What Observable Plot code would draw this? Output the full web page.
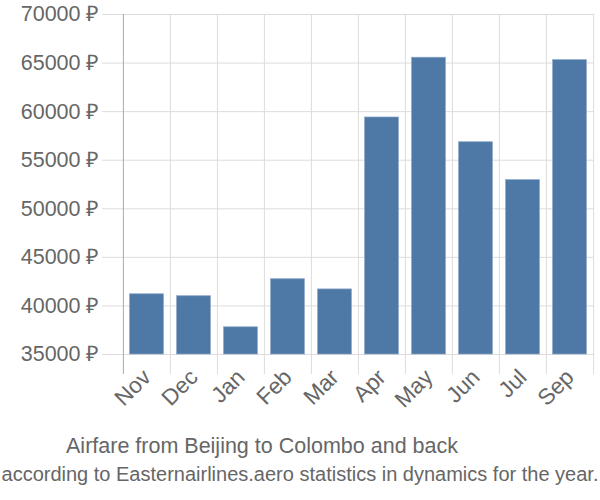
<!DOCTYPE html>
<html>
<head>
<meta charset="utf-8">
<script src="https://cdn.jsdelivr.net/npm/d3@7"></script>
<script src="https://cdn.jsdelivr.net/npm/@observablehq/plot@0.6"></script>
<style>
  html, body { margin: 0; padding: 0; background: #fff; }
  body { width: 600px; height: 500px; overflow: hidden; font-family: "Liberation Sans", Arial, sans-serif; color: #666; }
  #title { width: 524px; text-align: center; font-size: 21.5px; line-height: 24px; margin-top: 4px; white-space: nowrap; }
  #subtitle { width: 600px; text-align: center; font-size: 20px; line-height: 24px; margin-top: 4px; white-space: nowrap; }
</style>
</head>
<body>
<div id="chart"></div>
<div id="title">Airfare from Beijing to Colombo and back</div>
<div id="subtitle">according to Easternairlines.aero statistics in dynamics for the year.</div>
<script>
const months = ["Nov", "Dec", "Jan", "Feb", "Mar", "Apr", "May", "Jun", "Jul", "Sep"];
const prices = [41200, 41000, 37800, 42750, 41700, 59400, 65550, 56850, 52950, 65300];
const yTicks = [35000, 40000, 45000, 50000, 55000, 60000, 65000, 70000];

const data = months.map((m, i) => ({month: m, price: prices[i]}));

const W = 600, mL = 122, mR = 6;
const step = (W - mL - mR) / months.length;

const chart = Plot.plot({
  width: W,
  height: 430,
  marginLeft: mL,
  marginRight: mR,
  marginTop: 14,
  marginBottom: 76,
  x: {domain: months, padding: 0, label: null},
  y: {domain: [35000, 70000], label: null},
  style: {fontFamily: "Liberation Sans, Arial, sans-serif", color: "#666", background: "#fff"},
  marks: [
    Plot.gridY(yTicks, {stroke: "#dcdcdc", strokeOpacity: 1, strokeWidth: 1}),
    Plot.ruleX(months, {x: d => d, y1: 70000, y2: 35000, dx: -step / 2, insetBottom: -20, stroke: (d, i) => i === 0 ? "a" : "b", strokeWidth: 1}),
    Plot.ruleX([months[months.length - 1]], {x: d => d, y1: 70000, y2: 35000, dx: step / 2, insetBottom: -20, stroke: "#dcdcdc"}),
    Plot.barY(data, {x: "month", y1: 35000, y2: "price", fill: "#4e79a7", stroke: "#8ba6c8", strokeWidth: 0.7, insetLeft: 6.6, insetRight: 6.6}),
    Plot.axisY(yTicks, {tickSize: 20, tickPadding: 3, stroke: "#dcdcdc", fill: "#666", fontSize: 21.5, label: null, tickFormat: d => d + " ₽"}),
    Plot.axisX({tickSize: 0, tickRotate: -45, tickPadding: 19, fontSize: 22.5, fill: "#666", label: null})
  ],
  color: {domain: ["a", "b"], range: ["#aaa", "#dcdcdc"]}
});
document.getElementById("chart").appendChild(chart);
</script>
</body>
</html>
